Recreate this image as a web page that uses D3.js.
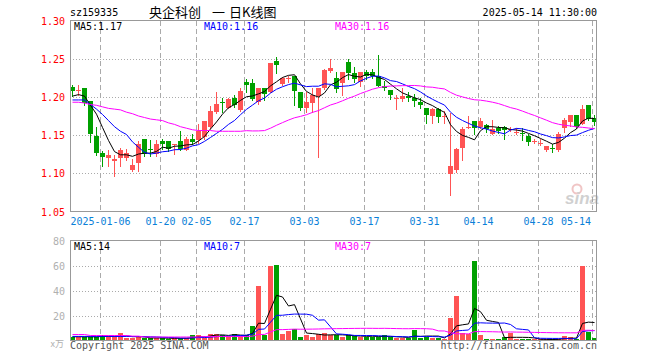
<!DOCTYPE html>
<html>
<head>
<meta charset="utf-8">
<script src="https://cdn.jsdelivr.net/npm/d3@7"></script>
<style>
  body { margin: 0; background: #fff; }
  svg { display: block; }
</style>
</head>
<body>
<svg id="main" width="660" height="360"></svg>
<script>
// daily bars, 2024-12-27 .. 2025-05-14
const dates = [
  '2024-12-27','2024-12-30','2024-12-31','2025-01-02','2025-01-03','2025-01-06','2025-01-07','2025-01-08','2025-01-09','2025-01-10',
  '2025-01-13','2025-01-14','2025-01-15','2025-01-16','2025-01-17','2025-01-20','2025-01-21','2025-01-22','2025-01-23','2025-01-24',
  '2025-01-27','2025-02-05','2025-02-06','2025-02-07','2025-02-10','2025-02-11','2025-02-12','2025-02-13','2025-02-14','2025-02-17',
  '2025-02-18','2025-02-19','2025-02-20','2025-02-21','2025-02-24','2025-02-25','2025-02-26','2025-02-27','2025-02-28','2025-03-03',
  '2025-03-04','2025-03-05','2025-03-06','2025-03-07','2025-03-10','2025-03-11','2025-03-12','2025-03-13','2025-03-14','2025-03-17',
  '2025-03-18','2025-03-19','2025-03-20','2025-03-21','2025-03-24','2025-03-25','2025-03-26','2025-03-27','2025-03-28','2025-03-31',
  '2025-04-01','2025-04-02','2025-04-03','2025-04-07','2025-04-08','2025-04-09','2025-04-10','2025-04-11','2025-04-14','2025-04-15',
  '2025-04-16','2025-04-17','2025-04-18','2025-04-21','2025-04-22','2025-04-23','2025-04-24','2025-04-25','2025-04-28','2025-04-29',
  '2025-04-30','2025-05-06','2025-05-07','2025-05-08','2025-05-09','2025-05-12','2025-05-13','2025-05-14'
];
const opens = [
  1.213,1.209,1.211,1.195,1.149,1.127,1.120,1.116,1.120,1.120,
  1.104,1.114,1.145,1.132,1.125,1.142,1.142,1.137,1.142,1.131,
  1.145,1.144,1.148,1.161,1.180,1.193,1.186,1.198,1.183,1.220,
  1.218,1.193,1.211,1.207,1.247,1.217,1.225,1.228,1.207,1.185,
  1.192,1.201,1.211,1.234,1.225,1.218,1.246,1.231,1.220,1.233,
  1.233,1.228,1.214,1.209,1.198,1.197,1.201,1.199,1.193,1.185,
  1.175,1.184,1.175,1.099,1.104,1.133,1.160,1.168,1.160,1.163,
  1.151,1.159,1.161,1.157,1.154,1.153,1.149,1.142,1.140,1.131,
  1.133,1.130,1.159,1.167,1.176,1.164,1.190,1.172
];
const highs = [
  1.216,1.215,1.211,1.195,1.161,1.129,1.130,1.124,1.133,1.132,
  1.119,1.142,1.145,1.144,1.144,1.145,1.142,1.138,1.155,1.148,
  1.151,1.164,1.169,1.188,1.206,1.198,1.198,1.202,1.212,1.224,
  1.223,1.212,1.212,1.245,1.252,1.226,1.227,1.228,1.207,1.206,
  1.212,1.211,1.237,1.249,1.232,1.232,1.250,1.239,1.233,1.235,
  1.237,1.255,1.221,1.209,1.202,1.211,1.206,1.204,1.198,1.186,
  1.185,1.186,1.182,1.179,1.133,1.161,1.175,1.168,1.172,1.164,
  1.170,1.162,1.162,1.160,1.159,1.159,1.151,1.145,1.145,1.136,
  1.138,1.154,1.173,1.176,1.176,1.190,1.190,1.176
];
const lows = [
  1.201,1.203,1.190,1.141,1.124,1.110,1.110,1.096,1.110,1.117,
  1.103,1.103,1.122,1.123,1.123,1.132,1.129,1.125,1.131,1.130,
  1.139,1.140,1.145,1.159,1.179,1.180,1.185,1.187,1.182,1.206,
  1.196,1.191,1.196,1.206,1.231,1.215,1.219,1.190,1.183,1.180,
  1.180,1.121,1.210,1.232,1.207,1.202,1.223,1.219,1.214,1.224,
  1.225,1.214,1.209,1.197,1.184,1.195,1.195,1.188,1.185,1.166,
  1.166,1.167,1.166,1.071,1.102,1.118,1.159,1.151,1.159,1.154,
  1.151,1.153,1.145,1.156,1.151,1.143,1.137,1.140,1.137,1.129,
  1.128,1.129,1.154,1.162,1.159,1.164,1.170,1.163
];
const closes = [
  1.208,1.209,1.192,1.151,1.127,1.121,1.124,1.119,1.130,1.127,
  1.111,1.139,1.125,1.130,1.138,1.139,1.132,1.138,1.132,1.145,
  1.141,1.155,1.168,1.181,1.191,1.192,1.197,1.189,1.208,1.215,
  1.197,1.211,1.204,1.245,1.242,1.225,1.225,1.208,1.185,1.193,
  1.202,1.211,1.235,1.238,1.210,1.232,1.231,1.224,1.233,1.228,
  1.228,1.214,1.211,1.202,1.198,1.201,1.198,1.195,1.190,1.176,
  1.184,1.174,1.175,1.109,1.132,1.158,1.161,1.159,1.169,1.158,
  1.158,1.156,1.157,1.158,1.154,1.151,1.141,1.142,1.140,1.136,
  1.132,1.152,1.170,1.176,1.160,1.184,1.171,1.167
];
// volume in 万 (10k)
const volumes = [
  2.7,2.7,2.7,3.2,3.2,4.8,2.7,2.7,6.1,1.9,
  1.9,2.7,1.9,1.9,1.9,1.9,1.3,1.9,1.9,1.9,
  4.0,4.8,1.9,5.6,5.6,4.5,2.7,5.3,3.5,4.5,
  12.0,44.0,4.0,60.0,60.8,5.3,8.0,9.3,3.2,4.0,
  3.2,5.3,6.1,4.0,4.5,2.7,4.0,3.5,3.2,3.2,
  3.2,3.2,4.0,2.7,1.9,1.9,1.9,8.8,1.9,3.2,
  1.9,1.9,1.3,17.9,35.6,6.1,5.3,63.5,4.8,1.3,
  1.3,1.3,2.7,6.1,1.3,1.3,0.8,0.8,0.8,0.8,
  0.8,1.3,3.5,2.7,1.3,59.5,6.5,1.9
];

// moving-average values before enough history is on the chart
const ma5Head  = [1.201, 1.203, 1.201, 1.189];
const ma10Head = [1.196, 1.196, 1.196, 1.190, 1.184, 1.177, 1.169, 1.161, 1.155];
const ma30Head = [1.193,1.193,1.192,1.190,1.189,1.187,1.185,1.184,1.183,1.180,
                  1.178,1.175,1.173,1.171,1.170,1.169,1.166,1.164,1.161,1.159,
                  1.157,1.156,1.156,1.156,1.155,1.155,1.155,1.155,1.155];
const vma5Head  = [3.0, 3.0, 3.0, 3.0];
const vma10Head = [3.3, 3.3, 3.3, 3.3, 3.3, 3.3, 3.3, 3.2, 3.2];
const vma30Head = [4.8,4.8,4.8,4.0,4.0,4.0,4.0,4.0,4.0,4.0,
                   3.5,3.5,2.8,2.8,2.8,2.8,2.8,2.8,2.8,2.8,
                   2.8,2.8,3.2,3.2,3.2,3.2,3.2,3.2,3.2];

const priceTicks = [1.05, 1.10, 1.15, 1.20, 1.25, 1.30];
const volTicks = [20, 40, 60, 80];
const dateTicks = ['2025-01-06','2025-01-20','2025-02-05','2025-02-17','2025-03-03',
                   '2025-03-17','2025-03-31','2025-04-14','2025-04-28','2025-05-14'];

const code = 'sz159335';
const stamp = '2025-05-14 11:30:00';

const UP = '#ff5454', DOWN = '#00a000';
const MONO = "'DejaVu Sans Mono', monospace";
const maColors = ['#000000', '#0000ff', '#ff00ff'];

function movingAverage(vals, n, head) {
  return vals.map((v, i) => i < n - 1 ? head[i] : d3.mean(vals.slice(i - n + 1, i + 1)));
}

function kChart() {
  let svg = d3.select('#main');
  const left = 70, right = 597;

  let x = d3.scaleLinear().domain([0, dates.length]).range([70, 598]);
  let yP = d3.scaleLinear().domain([1.05, 1.30]).range([211.5, 20.5]);
  let yV = d3.scaleLinear().domain([0, 80]).range([340.5, 240.5]);
  let px = v => Math.round(v) + 0.5;

  let bars = dates.map((d, i) => ({ i, d, o: opens[i], h: highs[i], l: lows[i], c: closes[i], v: volumes[i] }));
  let col = b => b.c >= b.o ? UP : DOWN;

  let pMA = [movingAverage(closes, 5, ma5Head), movingAverage(closes, 10, ma10Head), movingAverage(closes, 30, ma30Head)];
  let vMA = [movingAverage(volumes, 5, vma5Head), movingAverage(volumes, 10, vma10Head), movingAverage(volumes, 30, vma30Head)];

  // header
  svg.append('text').attr('x', 70).attr('y', 16).style('font', `10px ${MONO}`).text(code);
  let title = svg.append('g').style('font', "13px 'Noto Sans CJK SC'").attr('fill', '#000');
  title.append('text').attr('x', 149).attr('y', 17).text('央企科创');
  title.append('text').attr('x', 212).attr('y', 17).text('一');
  title.append('text').attr('x', 229).attr('y', 17).text('日K线图');
  svg.append('text').attr('x', 597).attr('y', 16).attr('text-anchor', 'end')
    .style('font', `10px ${MONO}`).text(stamp);

  // panels: grid
  let grid = svg.append('g').attr('shape-rendering', 'crispEdges');
  let tickIdx = dateTicks.map(t => dates.indexOf(t));
  [[20.5, 211.5], [240.5, 340.5]].forEach(([t, b]) => {
    grid.selectAll(null).data(tickIdx).join('line')
      .attr('x1', i => px(x(i))).attr('x2', i => px(x(i)))
      .attr('y1', t).attr('y2', b)
      .attr('stroke', '#aaa').attr('stroke-dasharray', '5,3');
  });
  grid.selectAll(null).data(priceTicks.slice(1, -1)).join('line')
    .attr('x1', left).attr('x2', right)
    .attr('y1', d => px(yP(d))).attr('y2', d => px(yP(d)))
    .attr('stroke', '#aaa').attr('stroke-dasharray', '1,2');
  grid.selectAll(null).data(volTicks.slice(0, -1)).join('line')
    .attr('x1', left).attr('x2', right)
    .attr('y1', d => px(yV(d))).attr('y2', d => px(yV(d)))
    .attr('stroke', '#aaa').attr('stroke-dasharray', '1,2');

  // watermark
  let wm = svg.append('g').attr('opacity', 0.45);
  wm.append('circle').attr('cx', 577).attr('cy', 189).attr('r', 4.5)
    .attr('fill', 'none').attr('stroke', '#e08080').attr('stroke-width', 2);
  wm.append('text').attr('x', 565).attr('y', 204)
    .style('font', "italic bold 17px 'Liberation Sans'").attr('fill', '#999').text('sina');

  // candles
  let candles = svg.append('g').attr('shape-rendering', 'crispEdges');
  candles.selectAll('.wick').data(bars).join('line')
    .attr('class', 'wick')
    .attr('x1', b => x(b.i) + 2.5).attr('x2', b => x(b.i) + 2.5)
    .attr('y1', b => Math.round(yP(b.h))).attr('y2', b => Math.round(yP(b.l)) + 1)
    .attr('stroke', col);
  candles.selectAll('.body').data(bars).join('rect')
    .attr('class', 'body')
    .attr('x', b => x(b.i)).attr('width', 5)
    .attr('y', b => Math.round(yP(Math.max(b.o, b.c))))
    .attr('height', b => Math.max(1, Math.round(yP(Math.min(b.o, b.c))) - Math.round(yP(Math.max(b.o, b.c)))))
    .attr('fill', col);

  // volume bars
  svg.append('g').attr('shape-rendering', 'crispEdges')
    .selectAll('rect').data(bars).join('rect')
    .attr('x', b => x(b.i)).attr('width', 5)
    .attr('y', b => Math.round(yV(b.v)))
    .attr('height', b => Math.max(1, 340 - Math.round(yV(b.v))))
    .attr('fill', col);

  // moving averages
  let lineP = d3.line().x((d, i) => x(i) + 2.5).y(d => yP(d));
  let lineV = d3.line().x((d, i) => x(i) + 2.5).y(d => yV(d));
  svg.append('g').selectAll('path').data(pMA).join('path')
    .attr('d', lineP).attr('fill', 'none').attr('stroke-width', 1)
    .attr('stroke', (d, k) => maColors[k]);
  svg.append('g').selectAll('path').data(vMA).join('path')
    .attr('d', lineV).attr('fill', 'none').attr('stroke-width', 1)
    .attr('stroke', (d, k) => maColors[k]);

  // frames
  let frame = svg.append('g').attr('fill', 'none').attr('stroke', '#999').attr('shape-rendering', 'crispEdges');
  frame.append('rect').attr('x', 70.5).attr('y', 20.5).attr('width', 526).attr('height', 191);
  frame.append('rect').attr('x', 70.5).attr('y', 240.5).attr('width', 526).attr('height', 100);

  // price axis labels
  svg.append('g').style('font', `10px ${MONO}`).attr('fill', '#ff0000').attr('text-anchor', 'end')
    .selectAll('text').data(priceTicks).join('text')
    .attr('x', 65).attr('y', d => yP(d) + 4)
    .text(d3.format('.2f'));

  // volume axis labels
  let va = svg.append('g').style('font', `10px ${MONO}`).attr('fill', '#b0b0b0').attr('text-anchor', 'end');
  va.selectAll('text').data(volTicks).join('text')
    .attr('x', 65).attr('y', d => yV(d) + 4).text(d => d);
  va.append('text').attr('x', 64).attr('y', 347).style('font', "9px 'Noto Sans CJK SC'").text('x万');

  // date labels
  svg.append('g').style('font', `10px ${MONO}`).attr('fill', '#0a80d8').attr('text-anchor', 'middle')
    .selectAll('text').data(tickIdx).join('text')
    .attr('x', (i, k) => Math.min(px(x(i)), 591 - (k === 0 ? 30 : 15)))
    .attr('y', 225)
    .text((i, k) => k === 0 ? dates[i] : dates[i].slice(5));

  // legends
  let last = dates.length - 1;
  let legX = [74, 204, 335];
  let names = ['MA5', 'MA10', 'MA30'];
  let lg = svg.append('g').style('font', `10px ${MONO}`);
  names.forEach((n, k) => {
    lg.append('text').attr('x', legX[k]).attr('y', 30).attr('fill', maColors[k])
      .text(`${n}:${d3.format('.2f')(pMA[k][last])}`);
    lg.append('text').attr('x', legX[k]).attr('y', 250).attr('fill', maColors[k])
      .text(`${n}:${Math.floor(vMA[k][last])}`);
  });

  // footer
  let ft = svg.append('g').style('font', `10px ${MONO}`).attr('fill', '#555');
  ft.append('text').attr('x', 70).attr('y', 349).text('Copyright 2025 SINA.COM');
  ft.append('text').attr('x', 597).attr('y', 349).attr('text-anchor', 'end').text('http://finance.sina.com.cn');
}

kChart();
</script>
</body>
</html>
